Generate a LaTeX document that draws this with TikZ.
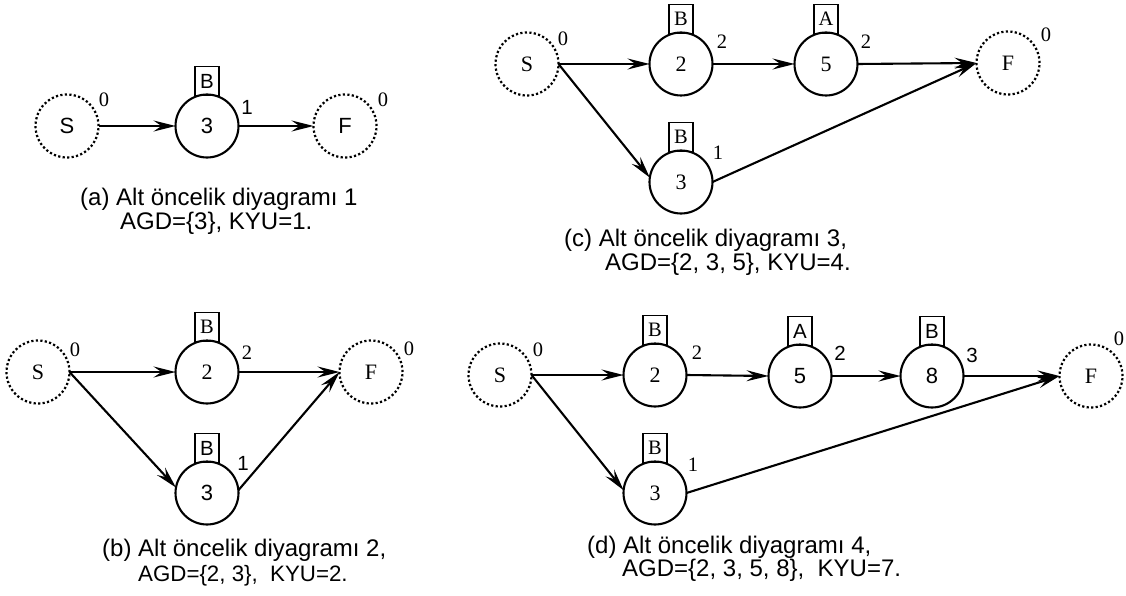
\documentclass[tikz,border=0pt]{standalone}
\usepackage{fontspec}
\setmainfont{Liberation Serif}
\setsansfont{Liberation Sans}
\usetikzlibrary{arrows.meta}
\newcommand{\ndrmf}{\fontsize{22pt}{25pt}\rmfamily\selectfont}
\newcommand{\ndsff}{\fontsize{22pt}{25pt}\sffamily\selectfont}
\newcommand{\lbrmf}{\fontsize{20.5pt}{23pt}\rmfamily\selectfont}
\newcommand{\lbsff}{\fontsize{20.5pt}{23pt}\sffamily\selectfont}
\newcommand{\capff}{\fontsize{24pt}{28pt}\sffamily\selectfont}
\newcommand{\capsmf}{\fontsize{22.3pt}{26pt}\sffamily\selectfont}
\tikzset{
  ndrm/.style={circle, draw, line width=2.1pt, minimum size=63pt, inner sep=0pt, outer sep=0pt, font=\ndrmf},
  ndsf/.style={ndrm, font=\ndsff},
  dndrm/.style={ndrm, line width=2.2pt, dash pattern=on 2.2pt off 2.3pt},
  dndsf/.style={dndrm, font=\ndsff},
  boxrm/.style={draw, line width=1.9pt, minimum width=24pt, minimum height=29pt, inner sep=0pt, outer sep=0pt, anchor=south, font=\lbrmf},
  boxsf/.style={boxrm, font=\lbsff},
  lblrm/.style={inner sep=0pt, font=\lbrmf},
  lblsf/.style={inner sep=0pt, font=\lbsff},
  capt/.style={anchor=base west, inner sep=0pt, font=\capff},
  arr/.style={-{Stealth[length=22pt,width=11pt,inset=8pt]}, line width=2.1pt},
}
\begin{document}
\begin{tikzpicture}[x=1pt,y=-1pt]
\useasboundingbox (0,0) rectangle (1126,596);
% ---------- (a)
\node[dndsf] (aS) at (67,126) {S};
\node[ndsf]  (a3) at (207,126) {3};
\node[dndsf] (aF) at (345,126) {F};
\node[boxsf] (aB) at ([yshift=-1pt]a3.north) {B};
\node[lblrm] (aS0) at (104,100) {0};
\node[lblsf] (a31) at (247,107) {1};
\node[lblrm] (aF0) at (383,100) {0};
\draw[arr] (aS.east) -- (a3.west);
\draw[arr] (a3.east) -- (aF.west);
\node[capt] (acap1) at (80,205) {(a) Alt öncelik diyagramı 1};
\node[capt] (acap2) at (120,229) {AGD=\{3\}, KYU=1.};
% ---------- (c)
\node[dndrm] (cS) at (527,64) {S};
\node[ndrm]  (c2) at (681,64) {2};
\node[ndrm]  (c5) at (826,64) {5};
\node[dndrm] (cF) at (1008,63) {F};
\node[ndrm]  (c3) at (681,182) {3};
\node[boxrm] (cB2) at ([yshift=-1pt]c2.north) {B};
\node[boxrm] (cA5) at ([yshift=-1pt]c5.north) {A};
\node[boxrm] (cB3) at ([yshift=-1pt]c3.north) {B};
\node[lblrm] (cS0) at (563,39) {0};
\node[lblrm] (c22) at (722,42) {2};
\node[lblrm] (c52) at (866,42) {2};
\node[lblrm] (cF0) at (1046,35) {0};
\node[lblrm] (c31) at (718,153) {1};
\draw[arr] (cS.east) -- (c2.west);
\draw[arr] (cS.east) -- (c3.172);
\draw[arr] (c2.east) -- (c5.west);
\draw[arr] (c5.east) -- (cF.west);
\draw[arr] (c3.east) -- (cF.west);
\node[capt] (ccap1) at (564,246) {(c) Alt öncelik diyagramı 3,};
\node[capt] (ccap2) at (605,270) {AGD=\{2, 3, 5\}, KYU=4.};
% ---------- (b)
\node[dndrm] (bS) at (38,372) {S};
\node[ndrm]  (b2) at (207,372) {2};
\node[ndsf]  (b3) at (207,493) {3};
\node[dndrm] (bF) at (371,372) {F};
\node[boxrm] (bB2) at ([yshift=-1pt]b2.north) {B};
\node[boxsf] (bB3) at ([yshift=-1pt]b3.north) {B};
\node[lblrm] (bS0) at (75,350) {0};
\node[lblrm] (b22) at (247,353) {2};
\node[lblsf] (b31) at (243,463) {1};
\node[lblrm] (bF0) at (409,349) {0};
\draw[arr] (bS.east) -- (b2.west);
\draw[arr] (bS.east) -- (b3.170);
\draw[arr] (b2.east) -- (bF.west);
\draw[arr] (b3.5) -- (bF.west);
\node[capt] (bcap1) at (102,556) {(b) Alt öncelik diyagramı 2,};
\node[capt, font=\capsmf] (bcap2) at (138,581) {AGD=\{2, 3\},\ \ KYU=2.};
% ---------- (d)
\node[dndrm] (dS) at (500,375) {S};
\node[ndrm]  (d2) at (655,375) {2};
\node[ndsf]  (d5) at (800,376) {5};
\node[ndsf]  (d8) at (932,376) {8};
\node[dndrm] (dF) at (1091,376) {F};
\node[ndrm]  (d3) at (655,493) {3};
\node[boxrm] (dB2) at ([yshift=-1pt]d2.north) {B};
\node[boxsf] (dA5) at ([yshift=-1pt]d5.north) {A};
\node[boxsf] (dB8) at ([yshift=-1pt]d8.north) {B};
\node[boxrm] (dB3) at ([yshift=-1pt]d3.north) {B};
\node[lblrm] (dS0) at (538,350) {0};
\node[lblrm] (d22) at (697,353) {2};
\node[lblsf] (d52) at (840,353) {2};
\node[lblsf] (d83) at (972,355) {3};
\node[lblrm] (d31) at (693,465) {1};
\node[lblrm] (dF0) at (1119,339) {0};
\draw[arr] (dS.east) -- (d2.west);
\draw[arr] (dS.east) -- (d3.175);
\draw[arr] (d2.east) -- (d5.west);
\draw[arr] (d5.east) -- (d8.west);
\draw[arr] (d8.east) -- (dF.west);
\draw[arr] (d3.east) -- (dF.west);
\node[capt] (dcap1) at (587,553) {(d) Alt öncelik diyagramı 4,};
\node[capt] (dcap2) at (622,576) {AGD=\{2, 3, 5, 8\},\ \ KYU=7.};
\end{tikzpicture}
\end{document}
